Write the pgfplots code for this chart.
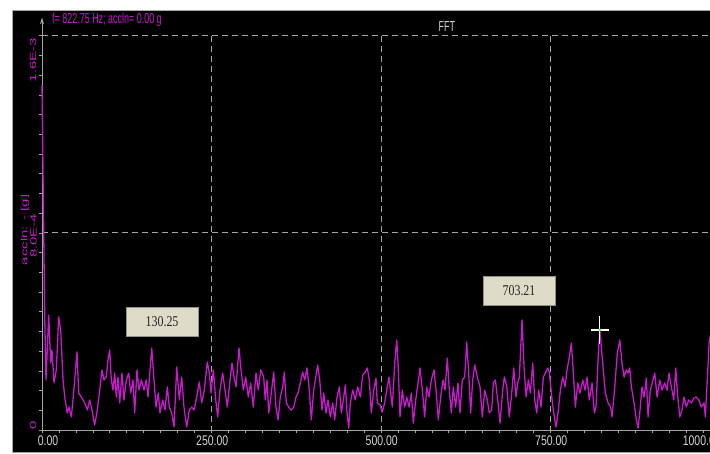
\documentclass[border=0pt]{standalone}
\usepackage{pgfplots}
\usepackage{pgfplotstable}
\pgfplotsset{compat=1.18}
\usepackage{fontspec}
\setmainfont{Liberation Sans}
\newfontfamily\serifbox{Liberation Serif}
\usetikzlibrary{arrows.meta}
\definecolor{mag}{RGB}{200,25,205}
\definecolor{gridg}{RGB}{165,165,165}
\definecolor{boxfill}{RGB}{222,219,200}
\definecolor{boxdraw}{RGB}{150,146,130}
\definecolor{lbl}{RGB}{210,210,210}
\newcommand{\hx}[1]{\scalebox{0.62}[1]{#1}}
\newcommand{\tx}[1]{\scalebox{0.75}[1]{#1}}
\newcommand{\vx}[1]{\scalebox{1}[0.6]{#1}}

\pgfplotstableread{
f a
0 14.0
4.0 4.59
5.9 2.03
9.9 4.67
12.8 2.72
14.7 3.25
17.7 1.91
21.1 2.44
24.6 4.59
27.6 4.06
31.0 2.03
33.5 1.34
37.3 0.69
39.8 0.93
43.2 0.53
45.7 1.22
48.2 2.03
51.6 3.17
54.1 1.50
58.0 1.34
63.0 1.10
66.8 0.81
70.4 1.22
73.7 0.81
77.7 0.20
81.6 0.81
85.1 1.62
88.5 2.44
91.4 2.03
94.8 2.15
97.3 2.84
99.8 3.25
102.2 2.03
104.7 1.62
107.2 2.31
109.6 1.34
112.1 2.15
114.6 1.10
118.0 2.31
120.9 1.22
124.3 2.03
127.9 2.31
130.8 1.50
134.2 2.03
136.7 0.69
140.1 2.44
143.1 1.62
146.5 2.03
150.4 1.62
153.8 2.03
156.3 1.34
161.8 3.33
165.2 2.03
168.1 0.93
171.5 1.50
174.0 0.69
178.0 1.22
181.4 0.81
184.8 1.75
187.8 0.93
191.3 0.69
194.7 0.12
198.7 2.56
202.5 1.22
206.0 2.15
209.4 0.93
213.4 0.12
217.3 0.81
220.8 0.93
224.2 0.81
228.2 1.34
232.0 1.95
235.5 1.10
239.4 1.62
243.8 2.76
246.8 2.31
249.3 1.50
252.7 2.44
256.2 1.22
259.1 0.53
262.5 1.62
266.5 2.31
269.9 1.62
273.3 0.93
277.3 2.03
280.2 2.72
283.2 2.15
286.1 1.75
290.6 3.33
293.5 2.44
296.9 1.62
300.4 2.15
304.3 1.34
307.8 1.91
311.6 0.93
315.6 2.31
319.0 1.62
322.6 2.44
327.0 2.15
329.3 1.22
331.8 2.03
334.4 0.69
338.2 1.50
341.7 2.35
345.1 0.93
348.1 0.41
351.5 1.34
355.0 1.75
357.4 2.35
360.3 1.10
363.9 0.93
367.7 0.81
371.2 0.93
374.6 1.34
377.6 1.50
381.0 1.91
384.5 2.35
387.5 2.03
390.8 2.52
394.2 1.62
397.2 0.41
400.7 1.62
403.1 2.03
406.6 2.64
409.6 2.03
413.0 0.81
415.5 1.50
418.9 0.69
421.8 1.22
425.2 0.53
428.8 1.10
431.7 0.41
435.1 1.34
438.5 1.75
441.5 0.69
445.0 1.34
447.4 1.83
449.9 0.69
452.4 0.08
454.7 1.10
458.3 1.62
462.1 1.22
465.6 1.75
469.5 1.34
473.0 2.23
476.8 2.35
479.8 2.52
482.7 2.03
485.7 0.69
489.2 1.62
492.6 2.10
494.5 1.10
498.5 1.02
501.9 0.73
505.4 1.10
508.4 1.62
511.8 2.15
514.3 1.50
516.7 0.93
520.2 2.72
523.2 3.65
525.1 2.72
528.0 0.53
531.4 1.62
534.9 0.93
537.9 1.34
541.3 0.93
544.7 1.50
547.6 0.28
551.2 1.22
554.6 1.91
557.5 2.52
560.9 1.62
564.4 0.53
567.4 1.75
570.8 1.34
574.2 2.03
578.2 2.44
581.5 1.50
584.5 0.41
588.0 1.34
591.4 2.03
594.4 1.62
597.8 2.92
600.7 1.62
603.7 0.69
606.6 1.75
610.0 0.93
613.5 1.91
616.4 0.69
619.9 2.03
623.4 2.15
626.4 3.57
629.3 2.31
632.2 0.69
635.2 2.03
638.2 2.64
642.0 2.15
646.0 1.75
649.4 0.53
652.9 1.62
656.7 1.22
659.7 0.69
663.2 0.81
665.6 1.91
668.6 2.03
672.1 1.22
675.5 0.28
679.5 1.62
681.9 2.15
685.4 1.75
689.2 0.53
692.8 1.50
695.7 2.52
699.1 1.34
701.6 1.91
704.0 2.15
708.0 4.47
710.9 2.56
713.9 1.34
717.3 2.03
720.3 1.50
723.7 2.72
726.7 1.22
729.6 0.69
732.6 1.62
736.0 0.93
739.4 2.15
742.3 2.31
745.9 2.52
748.2 2.35
751.8 1.34
754.7 0.69
758.1 0.12
761.5 0.81
764.5 1.62
768.0 2.15
771.4 1.75
774.3 2.44
777.7 2.96
780.7 3.53
783.6 2.31
786.6 0.93
790.1 1.91
793.5 1.50
797.5 2.03
800.9 1.62
803.8 2.15
807.2 1.22
811.2 1.91
814.6 0.69
817.1 0.93
820.5 3.13
822.8 4.06
827.4 2.56
830.8 1.50
834.8 1.10
838.8 0.93
840.7 0.53
844.7 1.75
848.5 3.13
852.1 3.65
855.4 2.72
858.4 2.15
861.8 2.44
864.3 2.31
866.8 2.52
869.2 1.75
873.2 1.10
876.6 0.41
879.1 0.08
881.6 0.69
884.9 1.75
887.9 1.34
891.3 2.11
893.8 0.53
897.2 1.62
900.1 1.91
903.7 2.31
907.1 1.34
911.1 2.03
914.4 1.62
918.4 1.91
921.8 1.62
924.7 2.31
928.2 1.75
931.7 1.22
934.7 2.52
937.1 1.50
940.6 0.53
943.9 0.81
946.9 1.34
950.3 0.93
953.8 1.22
957.7 1.10
961.6 1.30
965.0 1.34
968.6 1.22
972.4 0.93
976.4 1.10
978.3 0.53
981.2 2.03
983.8 3.53
988.0 4.20
}\fftdata

\begin{document}
\begin{tikzpicture}[x=1bp,y=1bp]
\fill[white] (0,0) rectangle (710,454);
\begin{axis}[
  at={(12bp,2bp)}, anchor=south west,
  width=698bp, height=442bp, scale only axis,
  xmin=-44.25, xmax=985.2, ymin=-0.893, ymax=17.05,
  xtick=\empty, ytick=\empty,
  axis background/.style={fill=black},
  axis line style={draw=gray!70, line width=0.8bp},
  clip=true,
]
% grid
\draw[gridg, line width=0.9bp, dash pattern=on 6bp off 4bp] (axis cs:0,16) -- (axis cs:990,16);
\draw[gridg, line width=0.9bp, dash pattern=on 6bp off 4bp] (axis cs:0,8) -- (axis cs:990,8);
\draw[gridg, line width=0.9bp, dash pattern=on 6bp off 4bp] (axis cs:250,16) -- (axis cs:250,0);
\draw[gridg, line width=0.9bp, dash pattern=on 6bp off 4bp] (axis cs:500,16) -- (axis cs:500,0);
\draw[gridg, line width=0.9bp, dash pattern=on 6bp off 4bp] (axis cs:750,16) -- (axis cs:750,0);
% axes
\draw[gridg, line width=0.9bp] (axis cs:0,0) -- (axis cs:990,0);
\draw[gridg, line width=0.9bp, -{Stealth[length=7bp,width=4bp]}] (axis cs:0,0) -- (axis cs:0,16.75);
\pgfplotsinvokeforeach{0,25,...,975}{\draw[gridg, line width=0.7bp] (axis cs:#1,0) -- ++(0bp,-3bp);}
\pgfplotsinvokeforeach{0,0.8,...,16.1}{\draw[gridg, line width=0.7bp] (axis cs:0,#1) -- ++(-3bp,0bp);}
% data
\addplot[mag, line width=1.3bp, line join=round] table[x=f, y=a] {\fftdata};
% tick labels
\node[lbl, font=\fontsize{14}{14}\selectfont] at (axis cs:9,-0.45) {\tx{0.00}};
\node[lbl, font=\fontsize{14}{14}\selectfont] at (axis cs:251,-0.45) {\tx{250.00}};
\node[lbl, font=\fontsize{14}{14}\selectfont] at (axis cs:501,-0.45) {\tx{500.00}};
\node[lbl, font=\fontsize{14}{14}\selectfont] at (axis cs:751,-0.45) {\tx{750.00}};
\node[lbl, font=\fontsize{14}{14}\selectfont] at (axis cs:973,-0.45) {\tx{1000.00}};
% y labels
\node[mag, rotate=90, font=\fontsize{15}{15}\selectfont] at (axis cs:-13.3,15.02) {\vx{1.6E-3}};
\node[mag, rotate=90, font=\fontsize{15}{15}\selectfont] at (axis cs:-12.5,7.88) {\vx{8.0E-4}};
\node[mag, rotate=90, font=\fontsize{15}{15}\selectfont] at (axis cs:-25.1,8.12) {\vx{accln: - [g]}};
\node[mag, rotate=90, font=\fontsize{15}{15}\selectfont] at (axis cs:-13.3,0.2) {\vx{0}};
% titles
\node[lbl, font=\fontsize{14.5}{14.5}\selectfont] at (axis cs:597,16.36) {\hx{FFT}};
\node[mag, anchor=west, inner sep=0pt, font=\fontsize{14.5}{14.5}\selectfont] at (axis cs:14.7,16.65) {\hx{f= 822.75 Hz; accln= 0.00 g}};
% annotation boxes
\node[fill=boxfill, draw=boxdraw, line width=0.6bp, minimum width=72bp, minimum height=29bp, inner sep=0pt, font=\serifbox\fontsize{15}{15}\selectfont, text=black!85] at (axis cs:177,4.38) {\scalebox{0.8}[1]{130.25}};
\node[fill=boxfill, draw=boxdraw, line width=0.6bp, minimum width=72bp, minimum height=29bp, inner sep=0pt, font=\serifbox\fontsize{15}{15}\selectfont, text=black!85] at (axis cs:703.5,5.64) {\scalebox{0.8}[1]{703.21}};
% cursor
\draw[white, line width=1.1bp] (axis cs:822.75,4.06) ++(-9bp,0bp) -- ++(18bp,0bp);
\draw[white, line width=1.1bp] (axis cs:822.75,4.06) ++(0bp,-14bp) -- ++(0bp,28bp);
\fill[green!70!white] (axis cs:822.75,4.06) circle (1.5bp);
\end{axis}
\pgfresetboundingbox
\useasboundingbox (0,0) rectangle (710,454);
\end{tikzpicture}
\end{document}
